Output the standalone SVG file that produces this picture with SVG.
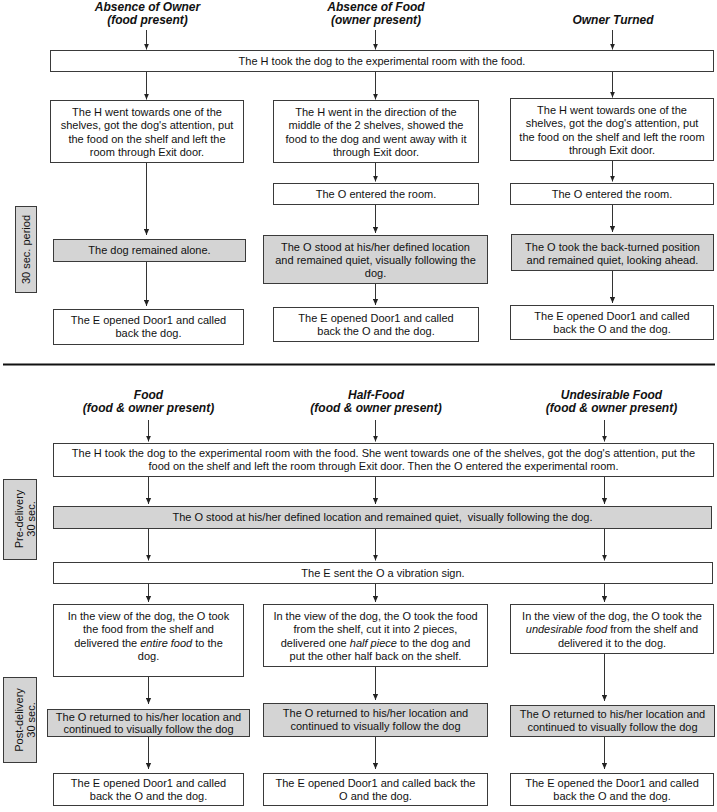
<svg xmlns="http://www.w3.org/2000/svg" width="717" height="812" viewBox="0 0 717 812">
<defs>
<style>
.b{fill:#fff;stroke:#3a3a3a;stroke-width:1}
.g{fill:#d4d4d4;stroke:#3a3a3a;stroke-width:1}
.t{font-family:"Liberation Sans",Arial,sans-serif;font-size:11px;fill:#111;text-anchor:middle}
.h{font-family:"Liberation Sans",Arial,sans-serif;font-size:12px;font-weight:bold;font-style:italic;fill:#111;text-anchor:middle}
.c{stroke:#333;stroke-width:1;fill:none;marker-end:url(#ah)}
.i{font-style:italic}
</style>
<marker id="ah" markerWidth="6" markerHeight="6" refX="6" refY="3" orient="auto" markerUnits="userSpaceOnUse"><path d="M0,0.4 L6,3 L0,5.6 z" fill="#222"/></marker>
</defs>

<g id="headers">
<text class="h" x="147.5" y="10.5">Absence of Owner</text>
<text class="h" x="147.5" y="24">(food present)</text>
<text class="h" x="376" y="10.5">Absence of Food</text>
<text class="h" x="376" y="24">(owner present)</text>
<text class="h" x="613" y="24">Owner Turned</text>
<text class="h" x="148.5" y="398.5">Food</text>
<text class="h" x="148.5" y="411.5">(food &amp; owner present)</text>
<text class="h" x="376" y="398.5">Half-Food</text>
<text class="h" x="376" y="411.5">(food &amp; owner present)</text>
<text class="h" x="611.5" y="398.5">Undesirable Food</text>
<text class="h" x="611.5" y="411.5">(food &amp; owner present)</text>
</g>

<g id="connectors">
<path class="c" d="M146.5,30 V49.5"/>
<path class="c" d="M375.5,30 V49.5"/>
<path class="c" d="M612.5,30 V49.5"/>
<path class="c" d="M146.5,72 V99.5"/>
<path class="c" d="M375.5,72 V99.5"/>
<path class="c" d="M612.5,72 V97.5"/>
<path class="c" d="M146.5,163 V235"/>
<path class="c" d="M146.5,262 V306"/>
<path class="c" d="M375.5,163 V181.5"/>
<path class="c" d="M375.5,205 V233"/>
<path class="c" d="M375.5,284 V305"/>
<path class="c" d="M612.5,161 V181.5"/>
<path class="c" d="M612.5,205 V232"/>
<path class="c" d="M612.5,271 V303"/>
<path d="M3,364.5 H715" stroke="#111" stroke-width="2"/>
<path class="c" d="M148.5,420 V441.5"/>
<path class="c" d="M375.5,420 V441.5"/>
<path class="c" d="M604.5,420 V441.5"/>
<path class="c" d="M148.5,477 V504"/>
<path class="c" d="M375.5,477 V504"/>
<path class="c" d="M604.5,477 V504"/>
<path class="c" d="M148.5,528 V560.5"/>
<path class="c" d="M375.5,528 V560.5"/>
<path class="c" d="M604.5,528 V560.5"/>
<path class="c" d="M148.5,583 V602"/>
<path class="c" d="M375.5,583 V602"/>
<path class="c" d="M604.5,583 V602"/>
<path class="c" d="M148.5,676 V704"/>
<path class="c" d="M375.5,667 V700"/>
<path class="c" d="M604.5,653 V701"/>
<path class="c" d="M148.5,737 V769"/>
<path class="c" d="M375.5,737 V769"/>
<path class="c" d="M604.5,737 V769"/>
</g>

<g id="side-30sec">
<rect class="g" x="15.5" y="206.5" width="21" height="86"/>
<text class="t" transform="translate(29.5,249.5) rotate(-90)">30 sec. period</text>
</g>
<g id="side-pre">
<rect class="g" x="3.5" y="479.5" width="33" height="80"/>
<text class="t" transform="translate(22.5,519) rotate(-90)">Pre-delivery</text>
<text class="t" transform="translate(34.5,519) rotate(-90)">30 sec.</text>
</g>
<g id="side-post">
<rect class="g" x="3.5" y="677.5" width="33" height="85"/>
<text class="t" transform="translate(22.5,720) rotate(-90)">Post-delivery</text>
<text class="t" transform="translate(34.5,720) rotate(-90)">30 sec.</text>
</g>

<g id="n-top">
<rect class="b" x="50.5" y="50.5" width="663" height="21"/>
<text class="t" x="382" y="65">The H took the dog to the experimental room with the food.</text>
</g>

<g id="n-a1">
<rect class="b" x="50.5" y="100.5" width="193" height="62"/>
<text class="t" x="147" y="116">The H went towards one of the</text>
<text class="t" x="147" y="129.3">shelves, got the dog's attention, put</text>
<text class="t" x="147" y="142.6">the food on the shelf and left the</text>
<text class="t" x="147" y="156">room through Exit door.</text>
</g>
<g id="n-a2">
<rect class="g" x="53.5" y="239.5" width="192" height="22"/>
<text class="t" x="149.5" y="254">The dog remained alone.</text>
</g>
<g id="n-a3">
<rect class="b" x="53.5" y="309.5" width="190" height="35"/>
<text class="t" x="148.5" y="324">The E opened Door1 and called</text>
<text class="t" x="148.5" y="337.3">back the dog.</text>
</g>

<g id="n-b1">
<rect class="b" x="273.5" y="100.5" width="205" height="62"/>
<text class="t" x="376" y="116">The H went in the direction of the</text>
<text class="t" x="376" y="129.3">middle of the 2 shelves, showed the</text>
<text class="t" x="376" y="142.6">food to the dog and went away with it</text>
<text class="t" x="376" y="156">through Exit door.</text>
</g>
<g id="n-b2">
<rect class="b" x="273.5" y="183.5" width="205" height="21"/>
<text class="t" x="376" y="198">The O entered the room.</text>
</g>
<g id="n-b3">
<rect class="g" x="263.5" y="235.5" width="224" height="48"/>
<text class="t" x="375.5" y="250.5">The O stood at his/her defined location</text>
<text class="t" x="375.5" y="263.8">and remained quiet, visually following the</text>
<text class="t" x="375.5" y="277">dog.</text>
</g>
<g id="n-b4">
<rect class="b" x="273.5" y="307.5" width="205" height="34"/>
<text class="t" x="376" y="321.5">The E opened Door1 and called</text>
<text class="t" x="376" y="334.8">back the O and the dog.</text>
</g>

<g id="n-c1">
<rect class="b" x="510.5" y="98.5" width="203" height="62"/>
<text class="t" x="612" y="114">The H went towards one of the</text>
<text class="t" x="612" y="127.3">shelves, got the dog's attention, put</text>
<text class="t" x="612" y="140.6">the food on the shelf and left the room</text>
<text class="t" x="612" y="154">through Exit door.</text>
</g>
<g id="n-c2">
<rect class="b" x="510.5" y="183.5" width="203" height="21"/>
<text class="t" x="612" y="198">The O entered the room.</text>
</g>
<g id="n-c3">
<rect class="g" x="511.5" y="234.5" width="202" height="36"/>
<text class="t" x="612.5" y="250.5">The O took the back-turned position</text>
<text class="t" x="612.5" y="263.8">and remained quiet, looking ahead.</text>
</g>
<g id="n-c4">
<rect class="b" x="510.5" y="305.5" width="203" height="34"/>
<text class="t" x="612" y="319.5">The E opened Door1 and called</text>
<text class="t" x="612" y="332.8">back the O and the dog.</text>
</g>

<g id="n-wide1">
<rect class="b" x="53.5" y="443.5" width="660" height="33"/>
<text class="t" x="383.5" y="456.5">The H took the dog to the experimental room with the food. She went towards one of the shelves, got the dog's attention, put the</text>
<text class="t" x="383.5" y="469.8">food on the shelf and left the room through Exit door. Then the O entered the experimental room.</text>
</g>
<g id="n-wide2">
<rect class="g" x="53.5" y="506.5" width="658" height="22"/>
<text class="t" x="382.5" y="521" xml:space="preserve">The O stood at his/her defined location and remained quiet,  visually following the dog.</text>
</g>
<g id="n-wide3">
<rect class="b" x="53.5" y="562.5" width="659" height="21"/>
<text class="t" x="383" y="577">The E sent the O a vibration sign.</text>
</g>

<g id="n-d1">
<rect class="b" x="53.5" y="604.5" width="190" height="72"/>
<text class="t" x="148.5" y="620">In the view of the dog, the O took</text>
<text class="t" x="148.5" y="633.3">the food from the shelf and</text>
<text class="t" x="148.5" y="646.6">delivered the <tspan class="i">entire food</tspan> to the</text>
<text class="t" x="148.5" y="660">dog.</text>
</g>
<g id="n-d2">
<rect class="g" x="47.5" y="709.5" width="202" height="27"/>
<text class="t" x="148.5" y="720.5">The O returned to his/her location and</text>
<text class="t" x="148.5" y="733">continued to visually follow the dog</text>
</g>
<g id="n-d3">
<rect class="b" x="53.5" y="773.5" width="190" height="32"/>
<text class="t" x="148.5" y="787">The E opened Door1 and called</text>
<text class="t" x="148.5" y="800">back the O and the dog.</text>
</g>

<g id="n-e1">
<rect class="b" x="263.5" y="604.5" width="224" height="62"/>
<text class="t" x="375.5" y="620">In the view of the dog, the O took the food</text>
<text class="t" x="375.5" y="633.3">from the shelf, cut it into 2 pieces,</text>
<text class="t" x="375.5" y="646.6">delivered one <tspan class="i">half piece</tspan> to the dog and</text>
<text class="t" x="375.5" y="660">put the other half back on the shelf.</text>
</g>
<g id="n-e2">
<rect class="g" x="263.5" y="703.5" width="224" height="33"/>
<text class="t" x="375.5" y="717">The O returned to his/her location and</text>
<text class="t" x="375.5" y="730.3">continued to visually follow the dog</text>
</g>
<g id="n-e3">
<rect class="b" x="263.5" y="773.5" width="224" height="32"/>
<text class="t" x="375.5" y="787">The E opened Door1 and called back the</text>
<text class="t" x="375.5" y="800">O and the dog.</text>
</g>

<g id="n-f1">
<rect class="b" x="510.5" y="604.5" width="203" height="49"/>
<text class="t" x="612" y="620">In the view of the dog, the O took the</text>
<text class="t" x="612" y="633.3"><tspan class="i">undesirable food</tspan> from the shelf and</text>
<text class="t" x="612" y="646.6">delivered it to the dog.</text>
</g>
<g id="n-f2">
<rect class="g" x="510.5" y="705.5" width="204" height="31"/>
<text class="t" x="612.5" y="718">The O returned to his/her location and</text>
<text class="t" x="612.5" y="731.3">continued to visually follow the dog</text>
</g>
<g id="n-f3">
<rect class="b" x="510.5" y="773.5" width="203" height="32"/>
<text class="t" x="612" y="787">The E opened the Door1 and called</text>
<text class="t" x="612" y="800">back the O and the dog.</text>
</g>
</svg>
